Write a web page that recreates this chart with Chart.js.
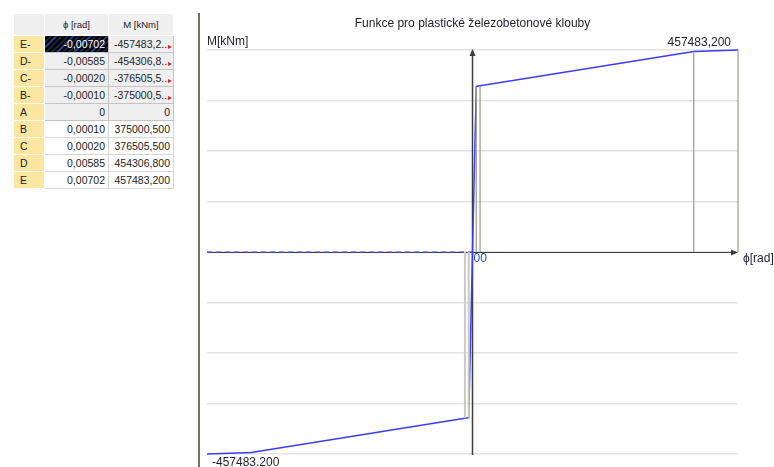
<!DOCTYPE html>
<html>
<head>
<meta charset="utf-8">
<script src="https://cdn.jsdelivr.net/npm/chart.js@4.4.0/dist/chart.umd.min.js"></script>
<style>
  body { margin: 0; background: #fff; width: 774px; height: 467px; overflow: hidden; position: relative; font-family: "Liberation Sans", Arial, sans-serif; }
  #tbl { position: absolute; left: 13px; top: 13px; border-collapse: collapse; table-layout: fixed; font-size: 10.5px; color: #222; }
  #tbl td, #tbl th { border: 1px solid #d6d6d6; padding: 0 3px; height: 16px; text-align: right; white-space: nowrap; overflow: hidden; position: relative; }
  #tbl th { height: 21px; background: #f0f0f0; font-weight: normal; text-align: center; font-size: 9.5px; border-color: #fff; }
  #tbl td.lbl { background: #fbe7a1; text-align: left; padding-left: 6px; border-color: #fff; }
  #tbl tr.neg td { background: #efefef; border-color: #c4c4c4; }
  #tbl tr.neg td.lbl { background: #fbe7a1; border-color: #fff; }
  #tbl tr.neg td.sel { background: repeating-linear-gradient(135deg, #000 0 3px, #3a5cb0 3px 4px); color: #fff; }
  #tbl td.cut::after { content: ""; position: absolute; right: 1px; bottom: 3px; border-left: 4px solid #e02020; border-top: 2px solid transparent; border-bottom: 2px solid transparent; }
  #divider { position: absolute; left: 198px; top: 13px; width: 2px; height: 454px; background: #76745f; }
  #chartBox { position: absolute; left: 199px; top: 0; width: 575px; height: 467px; }
</style>
</head>
<body>
<table id="tbl">
  <colgroup><col style="width:31px"><col style="width:64px"><col style="width:65px"></colgroup>
  <thead><tr><th></th><th>ϕ [rad]</th><th>M [kNm]</th></tr></thead>
  <tbody id="tbody"></tbody>
</table>
<div id="divider"></div>
<div id="chartBox"><canvas id="chart" width="575" height="467"></canvas></div>
<script>
// body points of the hinge function
const pointNames = ["E-", "D-", "C-", "B-", "A", "B", "C", "D", "E"];
const phiRad = [-0.00702, -0.00585, -0.00020, -0.00010, 0, 0.00010, 0.00020, 0.00585, 0.00702];
const momentKNm = [-457483.2, -454306.8, -376505.5, -375000.5, 0, 375000.5, 376505.5, 454306.8, 457483.2];
const momentText = ["-457483,2...", "-454306,8...", "-376505,5...", "-375000,5...", "0", "375000,500", "376505,500", "454306,800", "457483,200"];
const yGrid = [-457483.2, -343112.4, -228741.6, -114370.8, 0, 114370.8, 228741.6, 343112.4, 457483.2];

// table on the left
const tbody = document.getElementById("tbody");
pointNames.forEach((name, i) => {
    const tr = document.createElement("tr");
    if (phiRad[i] < 0 || name === "A") tr.className = "neg";
    const phiStr = phiRad[i] === 0 ? "0" : phiRad[i].toFixed(5).replace(".", ",");
    const selCls = i === 0 ? ' class="sel"' : "";
    const cutCls = momentText[i].endsWith("...") ? ' class="cut"' : "";
    tr.innerHTML = `<td class="lbl">${name}</td><td${selCls}>${phiStr}</td><td${cutCls}>${momentText[i]}</td>`;
    tbody.appendChild(tr);
});

// drop lines from each point to the phi axis
function dropLines(filter) {
    const pts = [];
    phiRad.forEach((p, i) => {
        if (!filter(p, i)) return;
        pts.push({ x: p, y: 0 }, { x: p, y: momentKNm[i] }, { x: p, y: null });
    });
    return pts;
}

const axesPlugin = {
    id: "axes",
    beforeDatasetsDraw(chart) {
        const { ctx, chartArea, scales: { x, y } } = chart;
        const x0 = x.getPixelForValue(0);
        const y0 = y.getPixelForValue(0);
        ctx.save();
        ctx.strokeStyle = "#3c3c3c";
        ctx.fillStyle = "#3c3c3c";
        // phi axis
        ctx.lineWidth = 1;
        ctx.beginPath();
        ctx.moveTo(chartArea.left, y0 + 0.5);
        ctx.lineTo(chartArea.right - 1, y0 + 0.5);
        ctx.stroke();
        ctx.beginPath();
        ctx.moveTo(chartArea.right, y0 + 0.5);
        ctx.lineTo(chartArea.right - 7, y0 - 2.5);
        ctx.lineTo(chartArea.right - 7, y0 + 3.5);
        ctx.closePath();
        ctx.fill();
        // M axis
        ctx.lineWidth = 1.5;
        ctx.beginPath();
        ctx.moveTo(x0, chartArea.top + 1);
        ctx.lineTo(x0, chartArea.bottom + 1);
        ctx.stroke();
        ctx.beginPath();
        ctx.moveTo(x0, chartArea.top - 1);
        ctx.lineTo(x0 - 3, chartArea.top + 6);
        ctx.lineTo(x0 + 3, chartArea.top + 6);
        ctx.closePath();
        ctx.fill();
        ctx.restore();
    },
    afterDatasetsDraw(chart) {
        const { ctx, chartArea, scales: { x, y } } = chart;
        const n = phiRad.length;
        ctx.save();
        ctx.font = "12px 'Liberation Sans', Arial, sans-serif";
        ctx.fillStyle = "#1e1e2e";
        ctx.textBaseline = "alphabetic";
        ctx.textAlign = "center";
        ctx.fillText("Funkce pro plastické železobetonové klouby", (chartArea.left + chartArea.right) / 2, 27);
        ctx.textAlign = "left";
        ctx.fillText("M[kNm]", chartArea.left, 45);
        ctx.textAlign = "right";
        ctx.fillText(momentKNm[n - 1].toFixed(3).replace(".", ","), x.getPixelForValue(phiRad[n - 1]) - 7, y.getPixelForValue(momentKNm[n - 1]) - 4);
        ctx.textAlign = "left";
        ctx.fillText(momentKNm[0].toFixed(3), chartArea.left + 5, y.getPixelForValue(momentKNm[0]) + 12);
        ctx.fillText("ϕ[rad]", chartArea.right + 5, y.getPixelForValue(0) + 10);
        ctx.fillStyle = "#2250c8";
        ctx.fillText("00", x.getPixelForValue(0) + 1, y.getPixelForValue(0) + 10);
        ctx.restore();
    }
};

new Chart(document.getElementById("chart"), {
    type: "scatter",
    data: {
        datasets: [
            {
                data: dropLines((p, i) => p > 0),
                showLine: true, spanGaps: false,
                borderColor: "#9c9a8a", borderWidth: 1.2, pointRadius: 0, clip: false
            },
            {
                data: dropLines((p, i) => p < 0 && p > -0.001),
                showLine: true, spanGaps: false,
                borderColor: "#cbcac2", borderWidth: 2, pointRadius: 0, clip: false
            },
            {
                data: [{ x: phiRad[0], y: 0 }, { x: 0, y: 0 }],
                showLine: true, borderColor: "#3a4cff", borderWidth: 1.2, borderDash: [5, 4],
                pointRadius: 0, clip: false
            },
            {
                data: phiRad.map((p, i) => ({ x: p, y: momentKNm[i] })),
                showLine: true, borderColor: "#3c3cff", borderWidth: 1.5,
                pointRadius: 0, tension: 0, clip: false
            }
        ]
    },
    options: {
        responsive: false,
        animation: false,
        layout: { padding: { left: 8, right: 36, top: 50, bottom: 13 } },
        plugins: { legend: { display: false }, tooltip: { enabled: false } },
        scales: {
            x: { type: "linear", min: phiRad[0], max: phiRad[phiRad.length - 1], display: false },
            y: {
                type: "linear", min: momentKNm[0], max: momentKNm[momentKNm.length - 1],
                afterBuildTicks: (s) => { s.ticks = yGrid.map(v => ({ value: v })); },
                ticks: { display: false },
                border: { display: false },
                grid: { color: "#e3e3e3", lineWidth: 1.5, drawTicks: false }
            }
        }
    },
    plugins: [axesPlugin]
});
</script>
</body>
</html>
